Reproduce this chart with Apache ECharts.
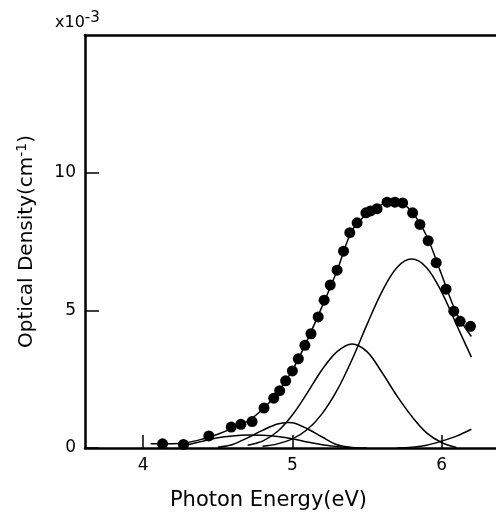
<!DOCTYPE html>
<html>
<head>
<meta charset="UTF-8">
<title>Optical Density</title>
<script src="https://cdn.jsdelivr.net/npm/echarts@6/dist/echarts.min.js"></script>
<style>
  html, body { margin: 0; padding: 0; background: #fff; }
  #main { width: 496px; height: 516px; }
</style>
</head>
<body>
<div id="main"></div>
<script>
// measured points (photon energy eV, optical density x1e-3)
var dots = [
    [4.13, 0.15], [4.27, 0.13], [4.44, 0.44], [4.59, 0.76], [4.655, 0.86], [4.73, 0.96],
    [4.81, 1.45], [4.875, 1.81], [4.915, 2.08], [4.955, 2.44], [5.0, 2.80], [5.04, 3.24],
    [5.084, 3.73], [5.125, 4.15], [5.173, 4.76], [5.213, 5.37], [5.254, 5.92], [5.30, 6.46],
    [5.343, 7.15], [5.385, 7.82], [5.434, 8.18], [5.493, 8.54], [5.524, 8.61], [5.568, 8.69],
    [5.635, 8.93], [5.687, 8.93], [5.739, 8.90], [5.806, 8.54], [5.855, 8.12], [5.91, 7.53],
    [5.964, 6.73], [6.03, 5.77], [6.082, 4.97], [6.125, 4.60], [6.194, 4.42]
];
// fitted sum curve
var fitCurve = [
    [4.05, 0.15], [4.2, 0.15], [4.3, 0.2], [4.4, 0.33], [4.5, 0.5], [4.6, 0.72], [4.7, 0.98],
    [4.8, 1.4], [4.9, 2.0], [5.0, 2.82], [5.1, 3.92], [5.2, 5.15], [5.3, 6.45], [5.4, 7.9],
    [5.5, 8.5], [5.6, 8.85], [5.7, 8.95], [5.8, 8.58], [5.9, 7.7], [6.0, 6.3], [6.1, 4.9], [6.2, 4.05]
];
// component bands
var band1 = [
    [4.3, 0.12], [4.4, 0.25], [4.5, 0.37], [4.6, 0.44], [4.7, 0.47], [4.8, 0.46], [4.9, 0.42],
    [5.0, 0.34], [5.1, 0.22], [5.2, 0.12], [5.3, 0.05], [5.4, 0.01], [5.5, 0]
];
var band2 = [
    [4.5, 0.03], [4.6, 0.13], [4.7, 0.37], [4.8, 0.64], [4.9, 0.87], [4.97, 0.93], [5.0, 0.92],
    [5.1, 0.70], [5.2, 0.40], [5.3, 0.12], [5.4, 0.02], [5.45, 0]
];
var band3 = [
    [4.7, 0.1], [4.8, 0.25], [4.9, 0.6], [5.0, 1.2], [5.1, 2.0], [5.2, 2.85], [5.3, 3.5],
    [5.4, 3.78], [5.5, 3.5], [5.6, 2.75], [5.7, 1.9], [5.8, 1.15], [5.9, 0.55], [6.0, 0.2],
    [6.1, 0.02]
];
var band4 = [
    [4.8, 0.06], [4.9, 0.15], [5.0, 0.33], [5.1, 0.67], [5.2, 1.25], [5.3, 2.1], [5.4, 3.21],
    [5.5, 4.48], [5.6, 5.67], [5.7, 6.55], [5.8, 6.86], [5.9, 6.55], [6.0, 5.67], [6.1, 4.48],
    [6.2, 3.3]
];
var band5 = [
    [5.7, 0.0], [5.8, 0.03], [5.9, 0.1], [6.0, 0.25], [6.1, 0.43], [6.2, 0.68]
];
var xTicks = [4, 5, 6];

var chart = echarts.init(document.getElementById('main'));

function curve(data) {
    return {
        type: 'line', data: data, smooth: 0.35, symbol: 'none', silent: true,
        lineStyle: {color: '#000', width: 1.5}
    };
}

chart.setOption({
    animation: false,
    backgroundColor: '#fff',
    textStyle: {fontFamily: 'DejaVu Sans', color: '#000'},
    title: {
        text: 'x10{s|-3}', left: 50, top: 6,
        textStyle: {
            fontSize: 16, fontWeight: 'normal', color: '#000', fontFamily: 'DejaVu Sans',
            rich: {s: {fontSize: 15, verticalAlign: 'top', padding: [0, 0, 9, 0], fontFamily: 'DejaVu Sans'}}
        }
    },
    grid: {left: 85, right: 0, top: 35, bottom: 66},
    xAxis: [{
        type: 'value', min: 3.61, max: 6.365,
        name: 'Photon Energy(eV)', nameLocation: 'middle', nameGap: 42,
        nameTextStyle: {fontSize: 21, color: '#000', padding: [0, 44, 0, 0]},
        axisLine: {lineStyle: {color: '#000', width: 2.5}},
        axisTick: {inside: true, length: 13, customValues: xTicks, lineStyle: {color: '#000', width: 1.5}},
        axisLabel: {customValues: xTicks, fontSize: 17, color: '#000', margin: 9},
        splitLine: {show: false}
    }, {
        type: 'value', position: 'top', min: 3.61, max: 6.365,
        axisLine: {show: true, lineStyle: {color: '#000', width: 2.5}},
        axisTick: {show: false}, axisLabel: {show: false}, splitLine: {show: false}
    }],
    yAxis: {
        type: 'value', min: 0, max: 15, interval: 5,
        name: 'Optical Density(cm{s|-1})', nameLocation: 'middle', nameGap: 46,
        nameTextStyle: {
            fontSize: 20, color: '#000',
            rich: {s: {fontSize: 14, verticalAlign: 'top', padding: [0, 0, 10, 0]}}
        },
        axisLine: {show: true, lineStyle: {color: '#000', width: 2.5}},
        axisTick: {inside: true, length: 14, lineStyle: {color: '#000', width: 1.5}},
        axisLabel: {fontSize: 17, color: '#000', margin: 9, showMaxLabel: false},
        splitLine: {show: false}
    },
    series: [
        curve(fitCurve), curve(band1), curve(band2), curve(band3), curve(band4), curve(band5),
        {
            type: 'scatter', data: dots, symbol: 'circle', symbolSize: 11, silent: true,
            itemStyle: {color: '#000', opacity: 1}
        }
    ]
});
</script>
</body>
</html>
